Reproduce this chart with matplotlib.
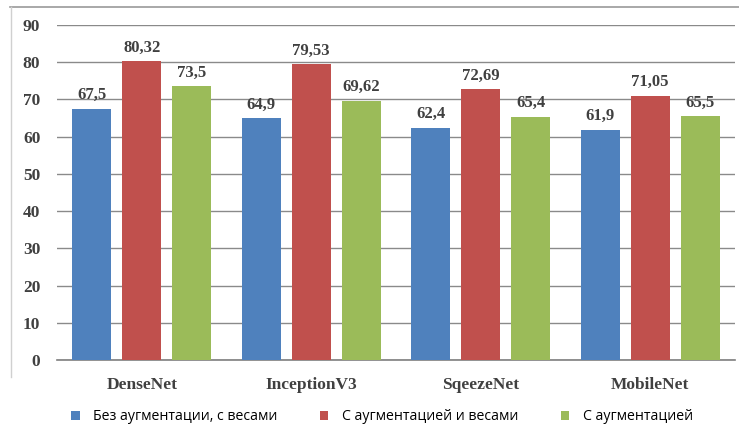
import matplotlib
matplotlib.use("Agg")
import matplotlib.pyplot as plt
import numpy as np
from matplotlib.lines import Line2D
from matplotlib.patches import Patch

categories = ["DenseNet", "InceptionV3", "SqeezeNet", "MobileNet"]
series_names = ["Без аугментации, с весами", "С аугментацией и весами", "С аугментацией"]
no_aug_weights = [67.5, 64.9, 62.4, 61.9]
aug_weights = [80.32, 79.53, 72.69, 71.05]
aug_only = [73.5, 69.62, 65.4, 65.5]
value_labels = [["67,5", "64,9", "62,4", "61,9"],
                ["80,32", "79,53", "72,69", "71,05"],
                ["73,5", "69,62", "65,4", "65,5"]]
colors = ["#4F81BD", "#C0504D", "#9BBB59"]

fig = plt.figure(figsize=(7.39, 4.28), dpi=100)
ax = fig.add_axes([57/739, (428-360)/428, 678/739, (360-25)/428])

x = np.arange(len(categories))
step = 50/169.5
width = 39/169.5
series = [no_aug_weights, aug_weights, aug_only]
serif = "Liberation Serif"
for i, (vals, col) in enumerate(zip(series, colors)):
    pos = x + (i - 1) * step
    ax.bar(pos, vals, width=width, color=col, zorder=3, label=series_names[i])
    for p, v, t in zip(pos, vals, value_labels[i]):
        ax.annotate(t, (p, v), xytext=(0, 4), textcoords="offset points",
                    ha="center", va="bottom", fontsize=12, color="#404040",
                    family=serif, fontweight="bold", zorder=4)

ax.set_xlim(-0.5, 3.5)
ax.set_ylim(0, 90)
ax.set_yticks(range(0, 91, 10))
ax.yaxis.grid(True, color="#8a8a8a", linewidth=1.0, zorder=0)
ax.set_axisbelow(True)
for s in ["top", "right", "left"]:
    ax.spines[s].set_visible(False)
ax.spines["bottom"].set_color("#7f7f7f")
ax.spines["bottom"].set_linewidth(1.2)
ax.tick_params(axis="y", length=0, pad=12, labelsize=12.5, labelcolor="#404040")
ax.tick_params(axis="x", length=0, pad=12, labelsize=12.5, labelcolor="#404040")
ax.set_xticks(x)
ax.set_xticklabels(categories)
for lab in ax.get_yticklabels() + ax.get_xticklabels():
    lab.set_family(serif)
    lab.set_fontweight("bold")

# chart frame lines (top and left)
fig.add_artist(Line2D([10/739, 1], [1 - 7/428, 1 - 7/428], color="#9a9a9a", lw=1.2,
                      transform=fig.transFigure))
fig.add_artist(Line2D([11/739, 11/739], [1 - 7/428, 1 - 377/428], color="#d0d0d0", lw=1.0,
                      transform=fig.transFigure))

handles = [Patch(facecolor=c, edgecolor="none") for c in colors]
fig.legend(handles, series_names, loc="center", bbox_to_anchor=(382/739, 1 - 417/428),
           ncol=3, frameon=False, handlelength=0.6, handleheight=0.6,
           handletextpad=0.95, columnspacing=3.0, prop={"family": "Open Sans", "size": 10.2})

fig.savefig("out.png", dpi=100)
